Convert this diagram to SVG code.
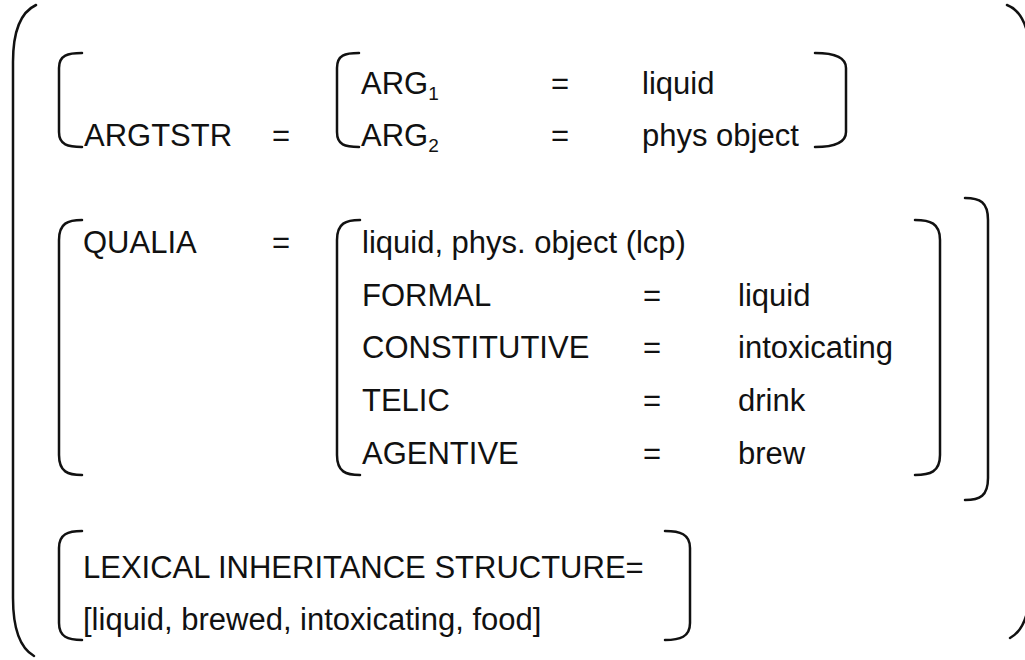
<svg xmlns="http://www.w3.org/2000/svg" width="1025" height="660" viewBox="0 0 1025 660">
<style>
  .t { font-family: "Liberation Sans", Arial, sans-serif; font-size: 31px; fill: #111; }
  .sub { font-size: 19px; }
  .br { fill: none; stroke: #111; stroke-width: 2.5; stroke-linecap: round; }
</style>
<rect width="1025" height="660" fill="#ffffff"/>

<g id="outer">
  <path class="br" d="M36 5 C21 12 13 30 13 62 L13 598 C13 630 20 648 34 656"/>
  <path class="br" d="M1007 5 C1015 8 1022 16 1026 28"/>
  <path class="br" d="M1010 638 C1017 634 1023 626 1026 616"/>
</g>

<g id="argstr">
  <path class="br" d="M82 53 C68 53 59 55 59 68 L59 132 C59 145 68 147 82 147"/>
  <text class="t" x="84" y="146">ARGTSTR</text>
  <text class="t" x="272" y="146">=</text>
  <g id="args">
    <path class="br" d="M359 53 C345 53 337 55 337 68 L337 132 C337 145 345 147 359 147"/>
    <text class="t" x="361" y="94">ARG<tspan class="sub" dy="6">1</tspan></text>
    <text class="t" x="551" y="94">=</text>
    <text class="t" x="642" y="94">liquid</text>
    <text class="t" x="361" y="146">ARG<tspan class="sub" dy="6">2</tspan></text>
    <text class="t" x="551" y="146">=</text>
    <text class="t" x="642" y="146">phys object</text>
    <path class="br" d="M815 53 C830 53 846 55 846 68 L846 132 C846 145 830 147 815 147"/>
  </g>
</g>

<g id="qualia">
  <path class="br" d="M82 220 C68 220 59 223 59 240 L59 455 C59 472 68 475 82 475"/>
  <text class="t" x="83" y="253">QUALIA</text>
  <text class="t" x="272" y="253">=</text>
  <g id="qualia-values">
    <path class="br" d="M360 220 C346 220 337 223 337 240 L337 455 C337 472 346 475 360 475"/>
    <text class="t" x="362" y="253">liquid, phys. object (lcp)</text>
    <text class="t" x="362" y="306">FORMAL</text>
    <text class="t" x="643" y="306">=</text>
    <text class="t" x="738" y="306">liquid</text>
    <text class="t" x="362" y="358">CONSTITUTIVE</text>
    <text class="t" x="643" y="358">=</text>
    <text class="t" x="738" y="358">intoxicating</text>
    <text class="t" x="362" y="411">TELIC</text>
    <text class="t" x="643" y="411">=</text>
    <text class="t" x="738" y="411">drink</text>
    <text class="t" x="362" y="464">AGENTIVE</text>
    <text class="t" x="643" y="464">=</text>
    <text class="t" x="738" y="464">brew</text>
    <path class="br" d="M915 220 C930 220 940 223 940 240 L940 455 C940 472 930 475 915 475"/>
  </g>
  <path class="br" d="M965 198 C980 198 988 202 988 220 L988 478 C988 496 980 500 965 500"/>
</g>

<g id="lexical">
  <path class="br" d="M82 531 C68 531 59 534 59 548 L59 623 C59 637 68 640 82 640"/>
  <text class="t" x="83" y="578">LEXICAL INHERITANCE STRUCTURE=</text>
  <text class="t" x="83" y="630">[liquid, brewed, intoxicating, food]</text>
  <path class="br" d="M665 531 C680 531 690 534 690 548 L690 623 C690 637 680 640 665 640"/>
</g>
</svg>
